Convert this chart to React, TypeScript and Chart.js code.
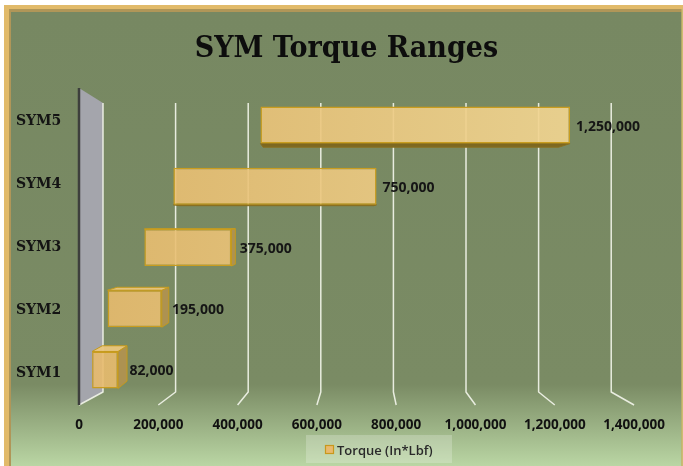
import React, { useEffect, useRef } from 'react';
import { Chart, registerables } from 'chart.js';

Chart.register(...registerables);

// ---- data ----
const categories = ['SYM1', 'SYM2', 'SYM3', 'SYM4', 'SYM5'];
const rangeStart = [15000, 55000, 150000, 225000, 450000];
const rangeEnd = [82000, 195000, 375000, 750000, 1250000];
const seriesLabel = 'Torque (In*Lbf)';
const chartTitle = 'SYM Torque Ranges';
const xMin = 0;
const xMax = 1400000;
const xStep = 200000;

// ---- style ----
const FONT_SANS = '"Open Sans", "DejaVu Sans", sans-serif';
const FONT_SLAB = '"DejaVu Serif", serif';
const FONT_TITLE = '"DejaVu Serif Condensed", "DejaVu Serif", serif';
const BACK_TOP = 103;
const BACK_BOTTOM = 392;
const FRONT_TOP = 88;
const FRONT_BOTTOM = 405;
const VPX = 318;
const VPY = 225;
const DEPTH = 0.045;

function poly(ctx: CanvasRenderingContext2D, pts: number[][], fill?: string, stroke?: string, lw = 1) {
  ctx.beginPath();
  pts.forEach((p, i) => (i ? ctx.lineTo(p[0], p[1]) : ctx.moveTo(p[0], p[1])));
  ctx.closePath();
  if (fill) {
    ctx.fillStyle = fill;
    ctx.fill();
  }
  if (stroke) {
    ctx.strokeStyle = stroke;
    ctx.lineWidth = lw;
    ctx.stroke();
  }
}

function mappers(chart: any) {
  const xs = chart.scales.x;
  const zeroPx = xs.getPixelForValue(0);
  const front = (px: number) => zeroPx - 7.3 + (px - zeroPx) * 1.0245;
  const back = (px: number) => zeroPx + 16.7 + (px - zeroPx) * 0.938;
  return { xs, zeroPx, front, back };
}

const depthPlugin = {
  id: 'depth3d',
  beforeDraw(chart: any) {
    const { ctx, width, height } = chart;
    ctx.save();
    ctx.fillStyle = '#ffffff';
    ctx.fillRect(0, 0, width, height);
    ctx.fillStyle = '#e1ba6a';
    ctx.fillRect(4, 5, width - 4, height - 5);
    ctx.fillStyle = '#b09658';
    ctx.fillRect(9, 9, width - 9, height - 9);
    const g = ctx.createLinearGradient(0, 12, 0, height);
    g.addColorStop(0, '#778862');
    g.addColorStop(0.82, '#7a8b64');
    g.addColorStop(1, '#bad6a4');
    ctx.fillStyle = g;
    ctx.fillRect(11, 12, 670.5, height - 12);
    ctx.fillStyle = '#cdbd72';
    ctx.fillRect(681.5, 9, 1.5, height - 9);
    ctx.restore();
  },
  beforeDatasetsDraw(chart: any) {
    const { ctx } = chart;
    const { xs, zeroPx, front, back } = mappers(chart);
    ctx.save();
    // grid lines on back wall and floor
    ctx.lineJoin = 'round';
    for (let v = xMin + xStep; v <= xMax; v += xStep) {
      const px = xs.getPixelForValue(v);
      const bx = back(px);
      const fx = front(px);
      ctx.beginPath();
      ctx.moveTo(bx, BACK_TOP);
      ctx.lineTo(bx, BACK_BOTTOM);
      ctx.lineTo(fx, FRONT_BOTTOM);
      ctx.strokeStyle = 'rgba(238,241,230,0.95)';
      ctx.lineWidth = 1.5;
      ctx.stroke();
    }
    // side wall at zero
    const bx0 = back(zeroPx);
    const fx0 = front(zeroPx);
    poly(ctx, [[fx0, FRONT_TOP], [bx0, BACK_TOP], [bx0, BACK_BOTTOM], [fx0, FRONT_BOTTOM]], '#a4a5ac');
    ctx.beginPath();
    ctx.moveTo(bx0, BACK_TOP);
    ctx.lineTo(bx0, BACK_BOTTOM);
    ctx.lineTo(fx0, FRONT_BOTTOM);
    ctx.strokeStyle = 'rgba(238,241,230,0.95)';
    ctx.lineWidth = 1.5;
    ctx.stroke();
    ctx.beginPath();
    ctx.moveTo(fx0, FRONT_TOP);
    ctx.lineTo(fx0, FRONT_BOTTOM);
    ctx.strokeStyle = '#3d3f3c';
    ctx.lineWidth = 2.5;
    ctx.stroke();

    // depth faces of bars
    const meta = chart.getDatasetMeta(0);
    meta.data.forEach((el: any) => {
      const p = el.getProps(['x', 'y', 'base', 'height'], true);
      const x0 = Math.min(p.x, p.base);
      const x1 = Math.max(p.x, p.base);
      const y0 = p.y - p.height / 2;
      const y1 = p.y + p.height / 2;
      const d = (x: number, y: number) => [x + (VPX - x) * DEPTH, y + (VPY - y) * DEPTH];
      if (x1 < VPX) {
        poly(ctx, [[x1, y0], d(x1, y0), d(x1, y1), [x1, y1]], 'rgba(176,146,80,0.95)', '#c49a1c', 1);
      }
      if (y0 > VPY) {
        poly(ctx, [[x0, y0], d(x0, y0), d(x1, y0), [x1, y0]], 'rgba(234,198,126,0.95)', '#c49a1c', 1);
      }
      if (y1 < VPY) {
        poly(ctx, [[x0, y1], d(x0, y1), d(x1, y1), [x1, y1]], '#7d6822', '#8a7020', 1);
      }
    });
    ctx.restore();
  },
  afterDraw(chart: any) {
    const { ctx, width } = chart;
    const { xs, front } = mappers(chart);
    const ys = chart.scales.y;
    const area = chart.chartArea;
    ctx.save();
    // title
    ctx.fillStyle = '#0d0d0d';
    ctx.font = `bold 30px ${FONT_TITLE}`;
    ctx.textAlign = 'center';
    ctx.textBaseline = 'alphabetic';
    ctx.fillText(chartTitle, width / 2 + 5, 57);

    // x tick labels (front edge of floor)
    ctx.font = `bold 13.5px ${FONT_SANS}`;
    ctx.fillStyle = '#111111';
    ctx.textBaseline = 'middle';
    for (let v = xMin; v <= xMax; v += xStep) {
      const px = xs.getPixelForValue(v);
      ctx.fillText(v.toLocaleString('en-US'), front(px), 425);
    }

    // category labels
    const midY = (area.top + area.bottom) / 2;
    ctx.font = `bold 14px ${FONT_SLAB}`;
    ctx.textAlign = 'right';
    ctx.fillStyle = '#141414';
    categories.forEach((c, i) => {
      const y = ys.getPixelForValue(i);
      ctx.fillText(c, xs.getPixelForValue(0) - 25, y + (y - midY) * 0.03);
    });

    // data labels
    const meta = chart.getDatasetMeta(0);
    ctx.font = `bold 14px ${FONT_SANS}`;
    ctx.textAlign = 'left';
    ctx.fillStyle = '#151515';
    meta.data.forEach((el: any, i: number) => {
      const p = el.getProps(['x', 'y', 'base'], true);
      const x1 = Math.max(p.x, p.base);
      const side = x1 < VPX ? (VPX - x1) * DEPTH : 0;
      ctx.fillText(rangeEnd[i].toLocaleString('en-US'), x1 + 6 + side * 0.6, p.y + 1.5);
    });

    // legend
    ctx.fillStyle = 'rgba(255,255,255,0.22)';
    ctx.fillRect(306, 435, 146, 28);
    ctx.fillStyle = '#e9b96e';
    ctx.fillRect(325.5, 445.5, 8, 8);
    ctx.strokeStyle = '#c8981c';
    ctx.lineWidth = 1.2;
    ctx.strokeRect(325.5, 445.5, 8, 8);
    ctx.font = `600 13px ${FONT_SANS}`;
    ctx.fillStyle = '#2a2a2a';
    ctx.textBaseline = 'middle';
    ctx.fillText(chart.data.datasets[0].label, 337, 451);
    ctx.restore();
  },
};

export default function App() {
  const ref = useRef<HTMLCanvasElement | null>(null);
  useEffect(() => {
    if (!ref.current) return;
    const chart = new Chart(ref.current, {
      type: 'bar',
      data: {
        labels: categories,
        datasets: [
          {
            label: seriesLabel,
            data: categories.map((_, i) => [rangeStart[i], rangeEnd[i]]) as any,
            backgroundColor: (c: any) => {
              const area = c.chart.chartArea;
              if (!area) return 'rgba(234,190,112,0.9)';
              const g = c.chart.ctx.createLinearGradient(area.left, 0, area.right, 0);
              g.addColorStop(0, 'rgba(231,186,108,0.9)');
              g.addColorStop(1, 'rgba(242,216,150,0.92)');
              return g;
            },
            borderColor: '#c99d1f',
            borderWidth: 1.5,
            borderSkipped: false,
            barPercentage: 0.605,
            categoryPercentage: 1,
          },
        ],
      },
      options: {
        indexAxis: 'y',
        responsive: false,
        animation: false,
        devicePixelRatio: 1,
        layout: { padding: { left: 86.3, right: 54.9, top: 94.4, bottom: 65.4 } },
        plugins: {
          legend: { display: false },
          title: { display: false },
          tooltip: { enabled: false },
        },
        scales: {
          x: { type: 'linear', min: xMin, max: xMax, ticks: { stepSize: xStep }, display: false },
          y: { type: 'category', reverse: true, display: false },
        },
      },
      plugins: [depthPlugin],
    });
    return () => chart.destroy();
  }, []);
  return (
    <div style={{ position: 'fixed', left: 0, top: 0, width: 683, height: 466, overflow: 'hidden', background: '#fff' }}>
      <canvas ref={ref} width={683} height={466} style={{ display: 'block' }} />
    </div>
  );
}
